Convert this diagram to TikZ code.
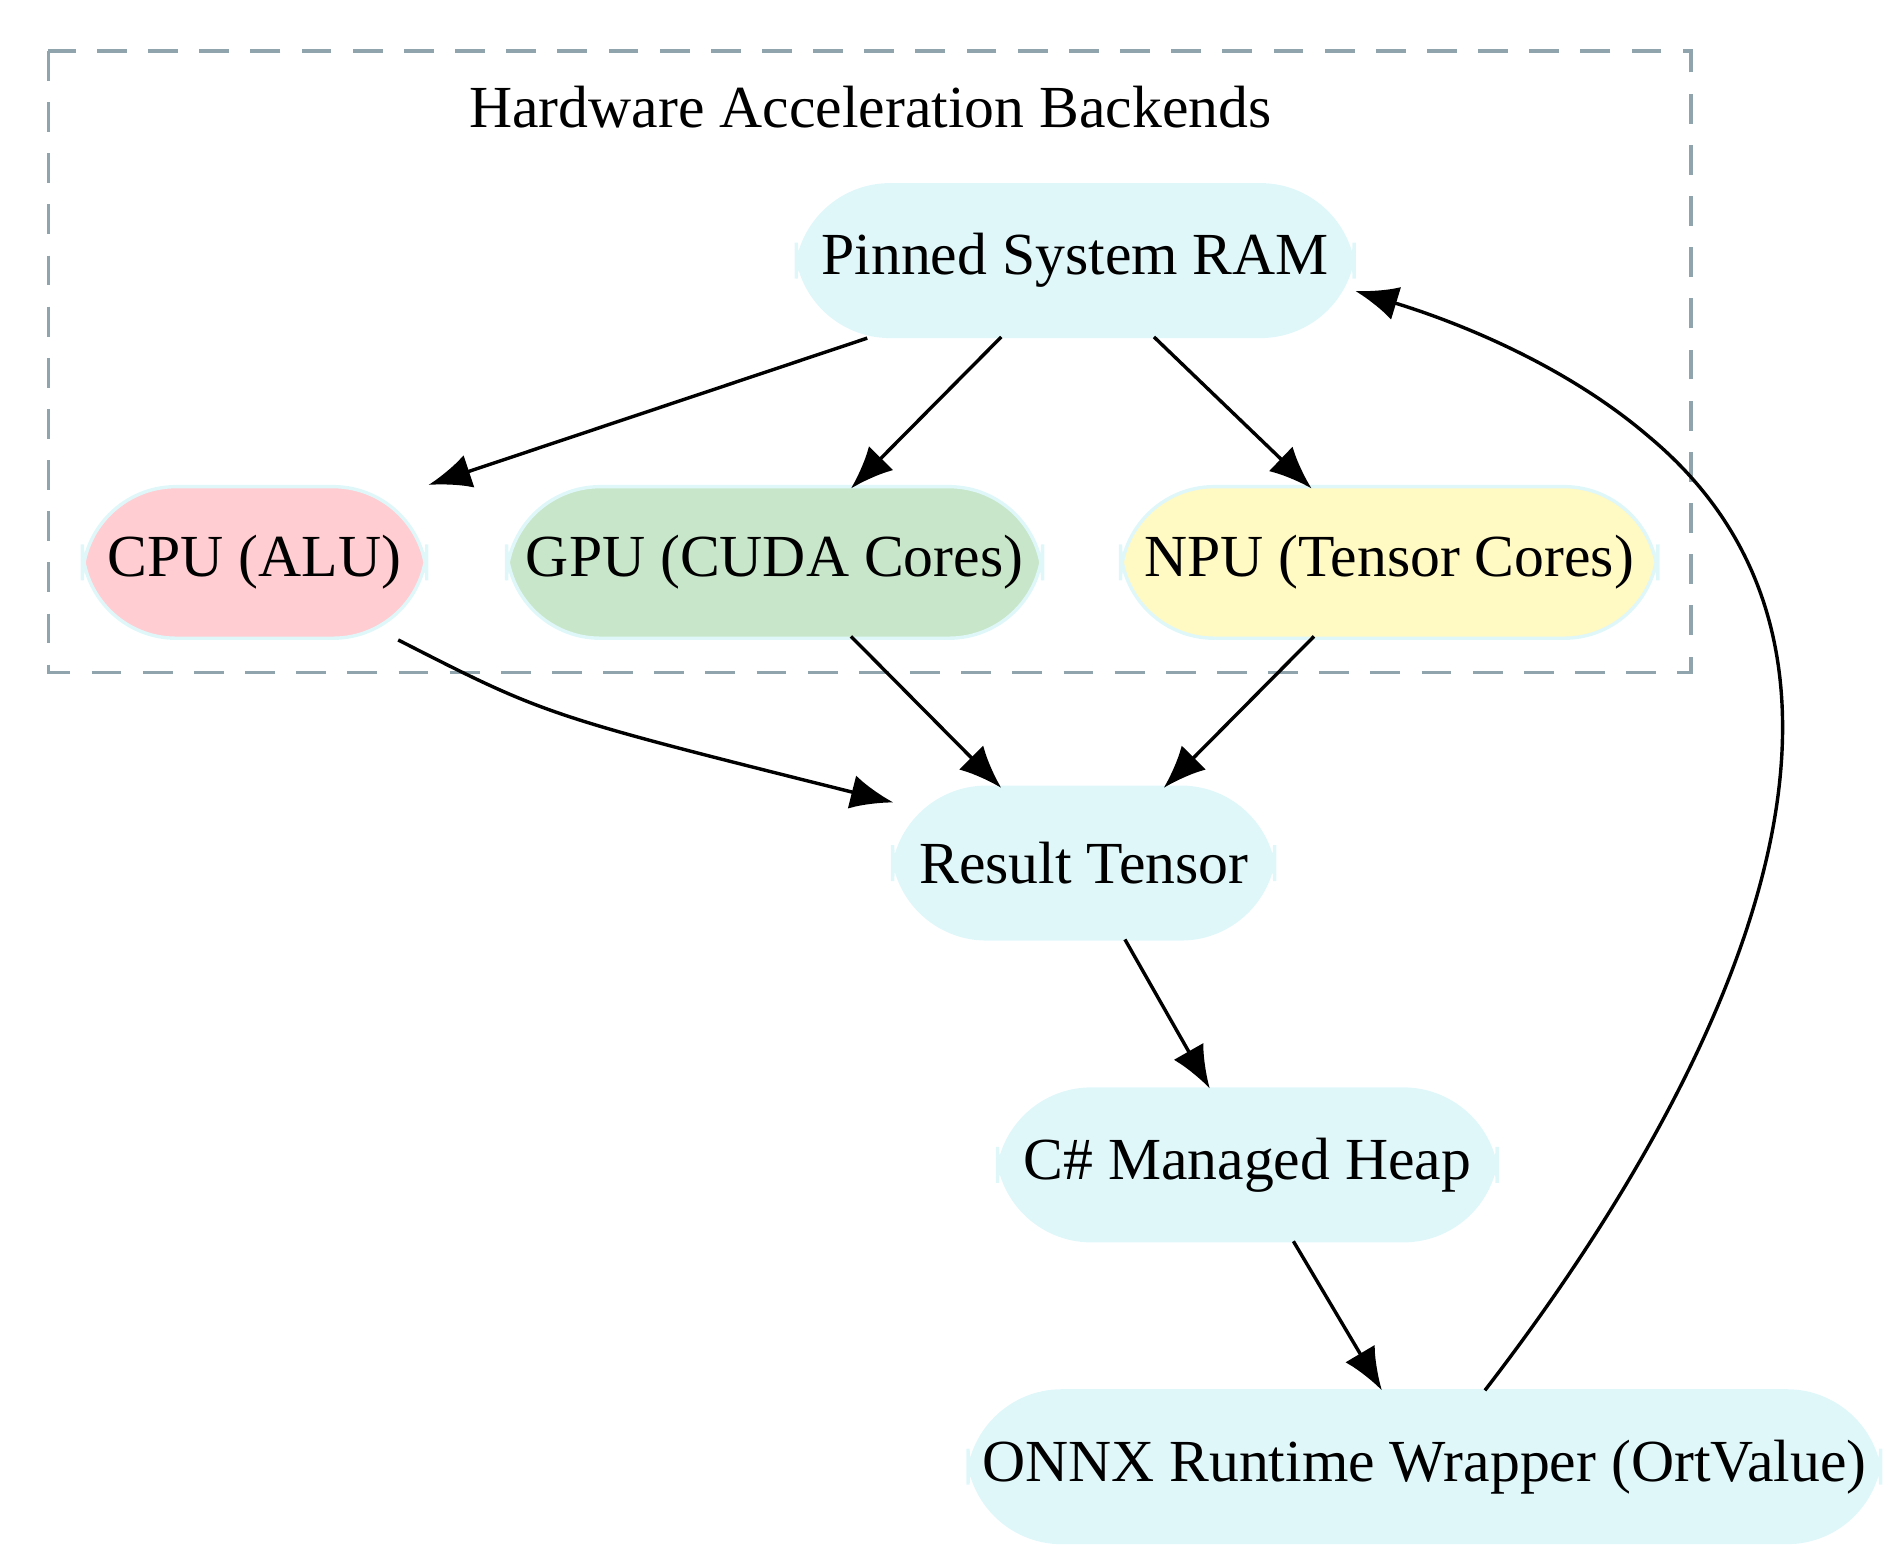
\documentclass[tikz,border=0pt]{standalone}
\usepackage{fontspec}
\setmainfont{Liberation Serif}
\usetikzlibrary{arrows.meta}
\definecolor{boxcyan}{HTML}{E0F7FA}
\definecolor{boxpink}{HTML}{FFCDD2}
\definecolor{boxgreen}{HTML}{C8E6C9}
\definecolor{boxyellow}{HTML}{FFF9C4}
\definecolor{clustergray}{HTML}{90A4AE}
\tikzset{
	box/.style={draw=boxcyan, fill=boxcyan, rounded corners=22pt, minimum height=1.25cm, font=\fontsize{14}{16}\selectfont, line width=0.8pt},
	flow/.style={-{Latex[length=10pt,width=8pt]}, line width=0.8pt}
}
\begin{document}
\begin{tikzpicture}[x=0.01cm,y=-0.01cm]
		\useasboundingbox (0,0) rectangle (1560,1280);
		%cluster
		\draw[clustergray, dashed, dash pattern=on 7pt off 5pt, line width=0.8pt] (40,42) rectangle (1395,555);
		\node[font=\fontsize{14}{16}\selectfont] (title) at (718,88) {Hardware Acceleration Backends};
		%nodes
		\node[box, minimum width=4.6cm] (ram) at (887,215) {Pinned System RAM};
		\node[box, fill=boxpink, minimum width=2.84cm] (cpu) at (210,464) {CPU (ALU)};
		\node[box, fill=boxgreen, minimum width=4.42cm] (gpu) at (639,464) {GPU (CUDA Cores)};
		\node[box, fill=boxyellow, minimum width=4.43cm] (npu) at (1146,464) {NPU (Tensor Cores)};
		\node[box, minimum width=3.15cm] (res) at (894,712) {Result Tensor};
		\node[box, minimum width=4.12cm] (heap) at (1029,961) {C\# Managed Heap};
		\node[box, minimum width=7.5cm] (onnx) at (1175,1210) {ONNX Runtime Wrapper (OrtValue)};
		%edges
		\draw[flow] (ram.south west) ++(60,0) -- (cpu.north east);
		\draw[flow] (826,278) -- (702,403);
		\draw[flow] (952,278) -- (1082,403);
		\draw[flow] (cpu.south east) ++(-25,0) .. controls (450,590) .. (737,662);
		\draw[flow] (702,525) -- (826,650);
		\draw[flow] (1084,525) -- (960,650);
		\draw[flow] (928,775) -- (998,898);
		\draw[flow] (1067,1024) -- (1140,1147);
		\draw[flow] (1225,1147) .. controls (1400,920) and (1600,560) .. (1360,360) .. controls (1290,300) and (1200,265) .. (1118,240);
\end{tikzpicture}
\end{document}
